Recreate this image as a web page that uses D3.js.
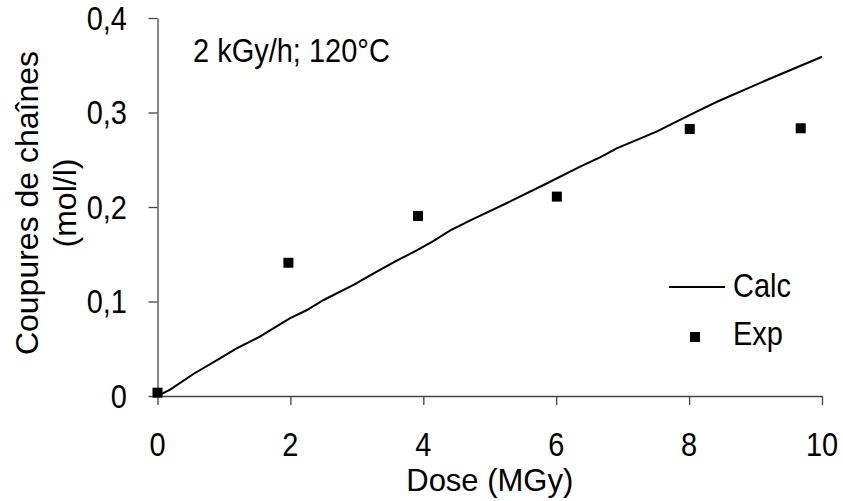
<!DOCTYPE html>
<html>
<head>
<meta charset="utf-8">
<script src="https://cdn.jsdelivr.net/npm/d3@7"></script>
<style>
  html, body { margin: 0; padding: 0; background: #fff; }
  text { font-family: Arial, "Liberation Sans", sans-serif; fill: #000; }
</style>
</head>
<body>
<svg id="chart" width="843" height="501"></svg>
<script>
// ---- data ----
const calcDose  = [0, 0.19, 0.54, 0.94, 1.19, 1.54, 1.99, 2.25, 2.50, 2.95, 3.30, 3.60, 3.90, 4.15, 4.40, 4.70, 5.30, 5.81, 6.36, 6.66, 6.91, 7.51, 7.66, 7.81, 8.16, 8.42, 9.17, 10.0];
const calcValue = [0, 0.0068, 0.0233, 0.0399, 0.0505, 0.0628, 0.0822, 0.0910, 0.1016, 0.1175, 0.1315, 0.1432, 0.1540, 0.1640, 0.1750, 0.1855, 0.2056, 0.2233, 0.2427, 0.2526, 0.2621, 0.2797, 0.2850, 0.2903, 0.3026, 0.3114, 0.3344, 0.3590];
const expDose   = [0, 1.97, 3.92, 6.01, 8.01, 9.68];
const expValue  = [0.0035, 0.141, 0.1905, 0.211, 0.2825, 0.2833];
const xTicks = [0, 2, 4, 6, 8, 10];
const yTicks = [0, 0.1, 0.2, 0.3, 0.4];
const xTitle = "Dose (MGy)";
const yTitle1 = "Coupures de chaînes";
const yTitle2 = "(mol/l)";
const annotation = "2 kGy/h; 120°C";
const legendNames = ["Calc", "Exp"];

// ---- chart ----
const svg = d3.select("#chart");
const x = d3.scaleLinear().domain([0, 10]).range([157.5, 822]);
const y = d3.scaleLinear().domain([0, 0.4]).range([396, 18]);
const fmt = d => d === 0 ? "0" : d3.format(".1f")(d).replace(".", ",");

// text helper: vertically stretched glyphs
function label(px, py, str, anchor, rot, fs, k) {
  fs = fs || 29; k = k || 1.12;
  return svg.append("text")
    .attr("transform", `translate(${px},${py})${rot ? " rotate(-90)" : ""} scale(1,${k})`)
    .attr("text-anchor", anchor || "start")
    .attr("font-size", fs)
    .text(str);
}

// axes
const xAxis = svg.append("g").attr("transform", `translate(0,${y(0)})`)
  .call(d3.axisBottom(x).tickValues(xTicks).tickSize(9).tickSizeOuter(0).tickFormat(""));
const yAxis = svg.append("g").attr("transform", `translate(${x(0)},0)`)
  .call(d3.axisLeft(y).tickValues(yTicks).tickSize(9).tickSizeOuter(0).tickFormat(""));
[xAxis, yAxis].forEach(a => {
  a.selectAll("path.domain").attr("stroke", "#444").attr("stroke-width", 1.3);
  a.selectAll(".tick line").attr("stroke", "#444").attr("stroke-width", 1.3);
});
xTicks.forEach(t => label(x(t), 456, String(t), "middle"));
yTicks.forEach(t => label(127, y(t) + 11.5, fmt(t), "end"));

// calc line
const pts = calcDose.map((d, i) => [d, calcValue[i]]);
svg.append("path")
  .datum(pts)
  .attr("fill", "none")
  .attr("stroke", "#000")
  .attr("stroke-width", 2)
  .attr("d", d3.line().x(d => x(d[0])).y(d => y(d[1])));

// exp squares
const sq = 10;
svg.append("g").selectAll("rect")
  .data(expDose.map((d, i) => [d, expValue[i]]))
  .join("rect")
  .attr("x", d => x(d[0]) - sq / 2)
  .attr("y", d => y(d[1]) - sq / 2)
  .attr("width", sq).attr("height", sq)
  .attr("fill", "#000");

// titles
label((x(0) + x(10)) / 2, 491, xTitle, "middle", false, 31, 1.03);
label(38, 203, yTitle1, "middle", true, 32, 1.0);
label(76, 203, yTitle2, "middle", true, 32, 1.0);

// annotation
label(193, 62, annotation);

// legend
svg.append("line").attr("x1", 669).attr("x2", 725).attr("y1", 287).attr("y2", 287)
  .attr("stroke", "#000").attr("stroke-width", 2);
label(733, 297, legendNames[0]);
svg.append("rect").attr("x", 695 - sq / 2).attr("y", 337 - sq / 2).attr("width", sq).attr("height", sq).attr("fill", "#000");
label(733, 345, legendNames[1]);
</script>
</body>
</html>
